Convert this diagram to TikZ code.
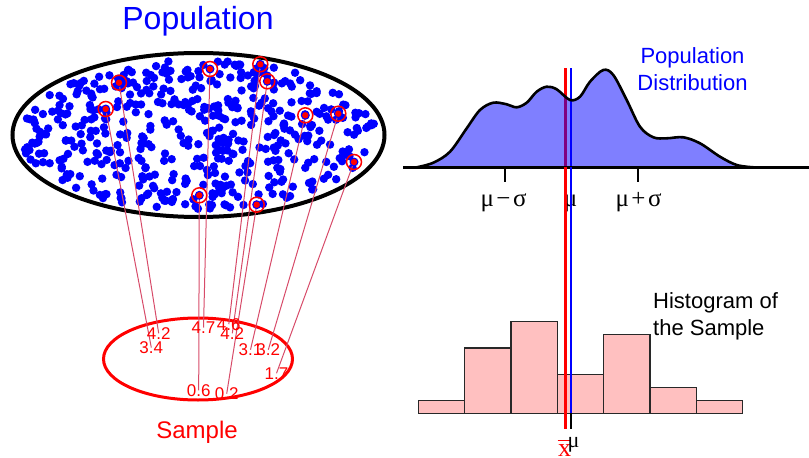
\documentclass[tikz,border=0pt]{standalone}
\usepackage{fontspec}
\setmainfont{Liberation Sans}
\newfontfamily\grk{Liberation Serif}
\definecolor{linkred}{RGB}{215,75,105}
\definecolor{histfill}{RGB}{255,192,192}
\definecolor{histedge}{RGB}{40,40,40}
\tikzset{
  popdot/.style={fill=blue},
  conn/.style={draw=linkred, line width=1pt},
  samplab/.style={text=red, font=\fontsize{17}{17}\selectfont, inner sep=0pt},
  ringmark/.style={draw=red, line width=1.5pt},
  bigtitle/.style={text=blue, font=\fontsize{32}{32}\selectfont, inner sep=0pt, anchor=base},
  sidetext/.style={font=\fontsize{22}{27}\selectfont, inner sep=0pt, align=center},
  greeklab/.style={font=\grk\fontsize{25}{25}\selectfont, inner sep=0pt, anchor=base},
  histbar/.style={fill=histfill, draw=histedge, line width=1.1pt},
  meanline/.style={line width=2.5pt},
}
\begin{document}
\begin{tikzpicture}[x=1pt,y=-1pt]
\useasboundingbox (0,0) rectangle (809,458);

% ---------- population ----------
\node[bigtitle] (poptitle) at (198,29.3) {Population};

\pgfmathsetseed{4711}
\foreach \i in {1,...,480}{
  \pgfmathsetmacro\rr{sqrt(rnd)}
  \pgfmathsetmacro\aa{360*rnd}
  \fill[popdot] ({198.5+178*\rr*cos(\aa)},{135+75*\rr*sin(\aa)}) circle[radius=4.2pt];
}
\draw[line width=4pt] (198.5,135) ellipse[x radius=186pt, y radius=82pt];

% sampled points
\coordinate (p1) at (119,82.7);
\coordinate (p2) at (105.7,109);
\coordinate (p3) at (210,69);
\coordinate (p4) at (260.3,64.3);
\coordinate (p5) at (267.3,81.3);
\coordinate (p6) at (305.3,115.3);
\coordinate (p7) at (338.3,113.7);
\coordinate (p8) at (354,162);
\coordinate (p9) at (199.3,195.3);
\coordinate (p10) at (256.7,204.7);

% label anchors
\coordinate (l1) at (158.7,333.3);
\coordinate (l2) at (151.3,347.5);
\coordinate (l3) at (203.5,327.5);
\coordinate (l4) at (228.8,324.2);
\coordinate (l5) at (232.3,333.3);
\coordinate (l6) at (250.5,349.7);
\coordinate (l7) at (268.3,349.7);
\coordinate (l8) at (276.5,373.3);
\coordinate (l9) at (198.7,390.3);
\coordinate (l10) at (226.7,393.7);

% sample ellipse
\draw[red, line width=3pt] (198,359) ellipse[x radius=94.5pt, y radius=41pt];

\foreach \k in {1,...,10}{
  \draw[conn] (p\k) -- (l\k);
}
\foreach \k in {1,...,10}{
  \fill[blue] (p\k) circle[radius=4.5pt];
  \fill[red] (p\k) circle[radius=3.2pt];
  \draw[ringmark] (p\k) circle[radius=7.5pt];
}

\node[samplab] (t1) at (l1) {4.2};
\node[samplab] (t2) at (l2) {3.4};
\node[samplab] (t3) at (l3) {4.7};
\node[samplab] (t4) at (l4) {4.6};
\node[samplab] (t5) at (l5) {4.2};
\node[samplab] (t6) at (l6) {3.1};
\node[samplab] (t7) at (l7) {3.2};
\node[samplab] (t8) at (l8) {1.7};
\node[samplab] (t9) at (l9) {0.6};
\node[samplab] (t10) at (l10) {0.2};

\node[text=red, font=\fontsize{24}{24}\selectfont, inner sep=0pt, anchor=base] (samptitle) at (197,438.3) {Sample};

% ---------- population distribution ----------
\coordinate (rtop) at (565.7,68);
\coordinate (btop) at (571,68);
\coordinate (raxis) at (565.7,167);
\coordinate (baxis) at (571,167);
\draw[red, meanline] (rtop) -- (raxis);
\draw[blue, meanline] (btop) -- (baxis);

\fill[blue, fill opacity=0.5] plot[smooth, tension=0.55] coordinates {
 (416.7,167.3) (433.3,162.7) (450,151.7) (466.7,128.3) (480,110) (493.3,102.7)
 (506.7,104.3) (516.7,107.3) (526.7,102.7) (536.7,91.7) (546.7,86.7) (556.7,89.3)
 (570,100) (580,96.7) (590,81.7) (603.3,70) (613.3,75) (626.7,100) (640,126.7)
 (653.3,137.3) (666.7,138.3) (683.3,137.3) (700,143.3) (720,156.7) (736.7,165)
 (753.3,167.3)} -- cycle;
\draw[line width=2.6pt] plot[smooth, tension=0.55] coordinates {
 (416.7,167.3) (433.3,162.7) (450,151.7) (466.7,128.3) (480,110) (493.3,102.7)
 (506.7,104.3) (516.7,107.3) (526.7,102.7) (536.7,91.7) (546.7,86.7) (556.7,89.3)
 (570,100) (580,96.7) (590,81.7) (603.3,70) (613.3,75) (626.7,100) (640,126.7)
 (653.3,137.3) (666.7,138.3) (683.3,137.3) (700,143.3) (720,156.7) (736.7,165)
 (753.3,167.3)};

\coordinate (axl) at (403,167.3);
\coordinate (axr) at (809,167.3);
\draw[line width=2.5pt] (axl) -- (axr);
\foreach \tx in {505,570.7,638.3}{
  \draw[line width=2pt] (\tx,167.3) -- (\tx,182);
}
\node[greeklab] (lmms) at (503.5,206.5) {μ\hspace{0.1em}−\hspace{0.1em}σ};
\node[greeklab] (lmu) at (570.5,206.5) {μ};
\node[greeklab] (lmps) at (638.5,206.5) {μ\hspace{0.1em}+\hspace{0.1em}σ};

\node[sidetext, text=blue, anchor=base] (popdist) at (692.5,90) {Population\\Distribution};

% ---------- histogram ----------
\draw[histbar] (418.3,413.3) rectangle (464.3,400.7);
\draw[histbar] (464.3,413.3) rectangle (511,348);
\draw[histbar] (511,413.3) rectangle (557.3,321.7);
\draw[histbar] (557.3,413.3) rectangle (603.3,374.3);
\draw[histbar] (603.3,413.3) rectangle (650,334.7);
\draw[histbar] (650,413.3) rectangle (696.7,387.7);
\draw[histbar] (696.7,413.3) rectangle (742.7,400.7);

\node[sidetext, anchor=base west, align=left] (histlab) at (653,335) {Histogram of\\the Sample};

\coordinate (rbot) at (565.7,429);
\coordinate (bbase) at (571,413.3);
\coordinate (kbot) at (571,429);
\draw[red, meanline] (raxis) -- (rbot);
\draw[blue, meanline] (baxis) -- (bbase);
\draw[black, meanline] (bbase) -- (kbot);

\node[font=\grk\fontsize{26}{26}\selectfont, text=red, inner sep=0pt, anchor=base] (xbarlab) at (564.5,456.5) {x};
\draw[red, line width=1.4pt] (557.5,440.5) -- (570,440.5);
\node[font=\grk\fontsize{22}{22}\selectfont, inner sep=0pt, anchor=base] (mulab) at (573.5,447.5) {μ};
\end{tikzpicture}
\end{document}
